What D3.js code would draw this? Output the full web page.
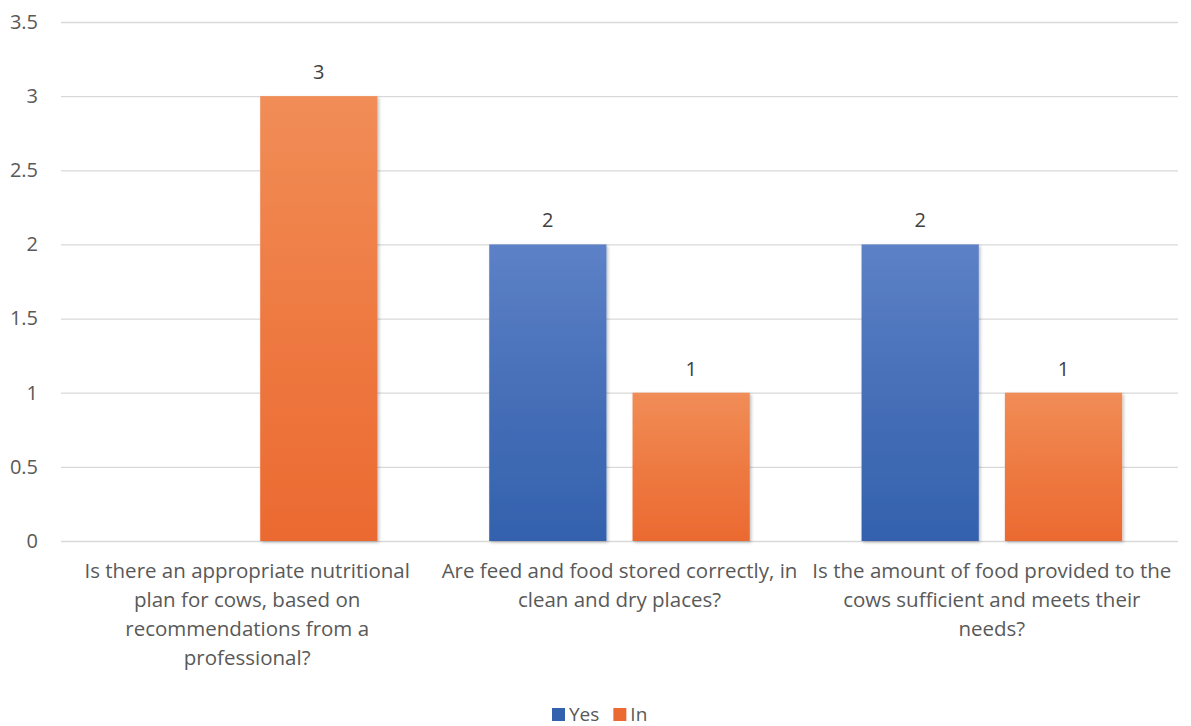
<!DOCTYPE html>
<html>
<head>
<meta charset="utf-8">
<script src="https://cdn.jsdelivr.net/npm/d3@7"></script>
<style>
  html, body { margin: 0; padding: 0; background: #ffffff; }
  svg { display: block; font-family: "Open Sans", sans-serif; }
</style>
</head>
<body>
<svg id="chart" width="1191" height="726"></svg>
<script>
// Survey answers per question
const categories = [
  ["Is there an appropriate nutritional", "plan for cows, based on", "recommendations from a", "professional?"],
  ["Are feed and food stored correctly, in", "clean and dry places?"],
  ["Is the amount of food provided to the", "cows sufficient and meets their", "needs?"]
];
const seriesNames = ["Yes", "In"];
const yesValues = [null, 2, 2];
const inValues = [3, 1, 1];
const yTicks = [0, 0.5, 1, 1.5, 2, 2.5, 3, 3.5];

const svg = d3.select("#chart");
const margin = { left: 61, right: 13, top: 22, bottom: 185 };
const W = 1191, H = 726;

const x0 = d3.scaleBand()
  .domain(d3.range(categories.length))
  .range([margin.left, W - margin.right])
  .paddingInner(0).paddingOuter(0);

const x1 = d3.scaleBand()
  .domain(seriesNames)
  .range([0, x0.bandwidth()])
  .paddingInner(0.182)
  .paddingOuter(0.39);

const y = d3.scaleLinear().domain([0, 3.5]).range([H - margin.bottom, margin.top]);

const colors = {
  Yes: ["#5d81c6", "#3461ad"],
  In: ["#f18d57", "#eb6a31"]
};

const defs = svg.append("defs");
seriesNames.forEach(s => {
  const g = defs.append("linearGradient")
    .attr("id", "grad-" + s).attr("x1", 0).attr("y1", 0).attr("x2", 0).attr("y2", 1);
  g.append("stop").attr("offset", "0%").attr("stop-color", colors[s][0]);
  g.append("stop").attr("offset", "50%").attr("stop-color", d3.interpolateRgb(colors[s][0], colors[s][1])(0.55));
  g.append("stop").attr("offset", "100%").attr("stop-color", colors[s][1]);
});
const shadow = defs.append("filter").attr("id", "barShadow")
  .attr("x", "-10%").attr("y", "-10%").attr("width", "125%").attr("height", "125%");
shadow.append("feDropShadow").attr("dx", 1.5).attr("dy", 1.5).attr("stdDeviation", 1.5)
  .attr("flood-color", "#000").attr("flood-opacity", 0.25);

// Gridlines and y-axis labels
const yAxis = d3.axisLeft(y).tickValues(yTicks).tickSize(-(W - margin.left - margin.right)).tickPadding(23)
  .tickFormat(d => String(d));
const gy = svg.append("g").attr("transform", `translate(${margin.left},0)`).call(yAxis);
gy.select(".domain").remove();
gy.selectAll(".tick line").attr("stroke", "#d9d9d9").attr("stroke-width", 1.3);
gy.selectAll(".tick text").attr("fill", "#595959").style("font-size", "20px")
  .style("font-family", "'Open Sans', sans-serif");

// Bars
const rows = categories.map((c, i) => [
  { key: "Yes", value: yesValues[i], i },
  { key: "In", value: inValues[i], i }
]);

const groups = svg.append("g").selectAll("g").data(rows).join("g")
  .attr("transform", (d, i) => `translate(${x0(i)},0)`);

const bars = groups.selectAll("g.bar").data(d => d.filter(v => v.value != null)).join("g").attr("class", "bar");
bars.append("rect")
  .attr("x", d => x1(d.key))
  .attr("y", d => y(d.value))
  .attr("width", x1.bandwidth())
  .attr("height", d => y(0) - y(d.value))
  .attr("fill", d => `url(#grad-${d.key})`)
  .attr("filter", "url(#barShadow)");

bars.append("text")
  .attr("x", d => x1(d.key) + x1.bandwidth() / 2)
  .attr("y", d => y(d.value) - 17)
  .attr("text-anchor", "middle")
  .attr("fill", "#404040")
  .style("font-size", "20px")
  .text(d => d.value);

// Category labels
const catG = svg.append("g").selectAll("text").data(categories).join("text")
  .attr("text-anchor", "middle")
  .attr("fill", "#595959")
  .style("font-size", "20.5px")
  .attr("transform", (d, i) => `translate(${x0(i) + x0.bandwidth() / 2},${y(0) + 37})`);
catG.selectAll("tspan").data(d => d).join("tspan")
  .attr("x", 0)
  .attr("dy", (d, j) => j === 0 ? 0 : 29)
  .text(d => d);

// Legend
const legend = svg.append("g").attr("transform", "translate(552,706)");
let lx = 0;
seriesNames.forEach(s => {
  legend.append("rect").attr("x", lx).attr("y", 2).attr("width", 13).attr("height", 13)
    .attr("fill", colors[s][1]);
  const t = legend.append("text").attr("x", lx + 17).attr("y", 15)
    .attr("fill", "#595959").style("font-size", "19px").text(s);
  lx += 17 + t.node().getComputedTextLength() + 14;
});
</script>
</body>
</html>
